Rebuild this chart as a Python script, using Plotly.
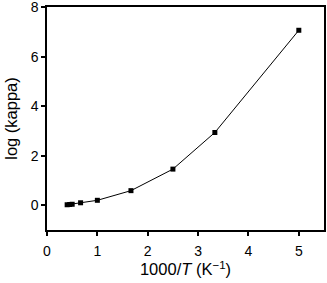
import plotly.graph_objects as go

inv_T = [0.4, 0.45, 0.5, 0.667, 1.0, 1.667, 2.5, 3.333, 5.0]
log_kappa = [0.02, 0.03, 0.04, 0.1, 0.2, 0.59, 1.46, 2.94, 7.07]

x_ticks = [0, 1, 2, 3, 4, 5]
y_ticks = [0, 2, 4, 6, 8]

fig = go.Figure(go.Scatter(
    x=inv_T, y=log_kappa, mode="lines+markers",
    line=dict(color="black", width=1),
    marker=dict(symbol="square", size=5, color="black"),
    showlegend=False, cliponaxis=False,
))

axis_common = dict(
    showgrid=False, zeroline=False, showline=True, linecolor="black", linewidth=1.5,
    mirror=True, ticks="outside", ticklen=4, tickwidth=1.5, tickcolor="black",
    tickfont=dict(family="Liberation Sans, Arial", size=14, color="black"),
    automargin=False, ticklabeloverflow="allow",
)

fig.update_xaxes(range=[0, 5.5], tickvals=x_ticks, ticklabelstandoff=3,
                 title=dict(text="1000/<i>T</i> (K<sup>−1</sup>)",
                            font=dict(family="Liberation Sans, Arial", size=16.5, color="black"),
                            standoff=1),
                 **axis_common)
fig.update_yaxes(range=[-1, 8.01], tickvals=y_ticks,
                 title=dict(text="log (kappa)",
                            font=dict(family="Liberation Sans, Arial", size=16.5, color="black"),
                            standoff=9),
                 **axis_common)

fig.update_layout(
    width=327, height=283,
    margin=dict(l=47, r=3, t=7, b=53),
    plot_bgcolor="white", paper_bgcolor="white",
)

fig.write_html("out.html", config={"displayModeBar": False},
               post_script="document.body.style.margin='0';document.body.style.overflow='hidden';")
